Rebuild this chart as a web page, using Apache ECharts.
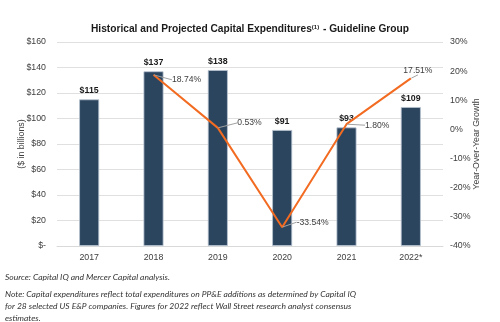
<!DOCTYPE html>
<html><head><meta charset="utf-8">
<script src="https://cdn.jsdelivr.net/npm/echarts@6/dist/echarts.min.js"></script>
<style>html,body{margin:0;padding:0;background:#fff}#c{width:500px;height:322px}</style>
</head><body><div id="c"></div>
<script>
const categories = ['2017','2018','2019','2020','2021','2022*'];
const capex = [115, 137, 138, 91, 93, 109];
const growth = [null, 18.74, 0.53, -33.54, 1.80, 17.51];
const leftTicks = [0, 20, 40, 60, 80, 100, 120, 140, 160];
const rightTicks = [-40, -30, -20, -10, 0, 10, 20, 30];
// label nudges for the growth labels (px), by category index
const growthLabelShift = [[0,0],[16,5],[17,-5],[12,-5],[16,1],[-10,-8]];

const FF = 'Liberation Sans, Arial, sans-serif';
const chart = echarts.init(document.getElementById('c'));
const noteStyle = {fontFamily: 'Lato, "Open Sans", sans-serif', fontStyle: 'italic', fontSize: 8.5, fill: '#333'};
chart.setOption({
  animation: false,
  title: {
    text: '{t|Historical and Projected Capital Expenditures}{s|(1)}{t| - Guideline Group}',
    left: 'center', top: 19,
    textStyle: {rich: {
      t: {fontFamily: FF, fontWeight: 'bold', fontSize: 10.2, color: '#1a1a1a'},
      s: {fontFamily: FF, fontSize: 6, color: '#1a1a1a', verticalAlign: 'top', padding: [0,1,5,0]}
    }}
  },
  grid: {left: 57, right: 57, top: 42, bottom: 76, outerBoundsMode: 'none', containLabel: false},
  xAxis: {
    type: 'category', data: categories,
    axisLine: {lineStyle: {color: '#d9d9d9'}}, axisTick: {show: false},
    axisLabel: {color: '#404040', fontSize: 8.8, fontFamily: FF, margin: 7}
  },
  yAxis: [{
    type: 'value', min: 0, max: 160, interval: 20,
    name: '($ in billions)', nameLocation: 'middle', nameGap: 31, nameRotate: 90, nameMoveOverlap: false,
    nameTextStyle: {color: '#404040', fontSize: 8.8, fontFamily: FF},
    axisLabel: {color: '#404040', fontSize: 8.8, fontFamily: FF, margin: 11,
      formatter: v => v === 0 ? '$-' : '$' + v},
    splitLine: {lineStyle: {color: '#e0e0e0'}}
  }, {
    type: 'value', min: -40, max: 30, interval: 10,
    name: 'Year-Over-Year Growth', nameLocation: 'middle', nameGap: 29, nameRotate: 90, nameMoveOverlap: false,
    nameTextStyle: {color: '#404040', fontSize: 8.8, fontFamily: FF},
    axisLabel: {color: '#404040', fontSize: 8.8, fontFamily: FF, margin: 7,
      formatter: v => v + '%'},
    splitLine: {show: false}
  }],
  series: [{
    type: 'bar', data: capex, barWidth: 20,
    itemStyle: {color: '#2c455f', borderColor: '#b8c4d0', borderWidth: 0.8},
    label: {show: true, position: 'top', distance: 4, formatter: p => '$' + p.value,
      fontWeight: 'bold', fontSize: 8.8, color: '#1a1a1a', fontFamily: FF}
  }, {
    type: 'line', yAxisIndex: 1, data: growth, showSymbol: true, symbol: 'circle', symbolSize: 1,
    itemStyle: {color: 'rgba(0,0,0,0)'},
    lineStyle: {color: '#f26b21', width: 2},
    label: {show: true, position: 'right', distance: 2, formatter: p => p.value.toFixed(2) + '%',
      fontSize: 8.6, color: '#404040', fontFamily: FF},
    labelLayout: p => ({dx: growthLabelShift[p.dataIndex][0], dy: growthLabelShift[p.dataIndex][1]}),
    labelLine: {show: true, length2: 0, lineStyle: {color: '#a0a0a0', width: 1}}
  }],
  graphic: [
    {type: 'text', left: 5, top: 273, style: Object.assign({text: 'Source: Capital IQ and Mercer Capital analysis.'}, noteStyle)},
    {type: 'text', left: 5, top: 288, style: Object.assign({text: 'Note: Capital expenditures reflect total expenditures on PP&E additions as determined by Capital IQ\nfor 28 selected US E&P companies. Figures for 2022 reflect Wall Street research analyst consensus\nestimates.', lineHeight: 12}, noteStyle)}
  ]
});
</script></body></html>
